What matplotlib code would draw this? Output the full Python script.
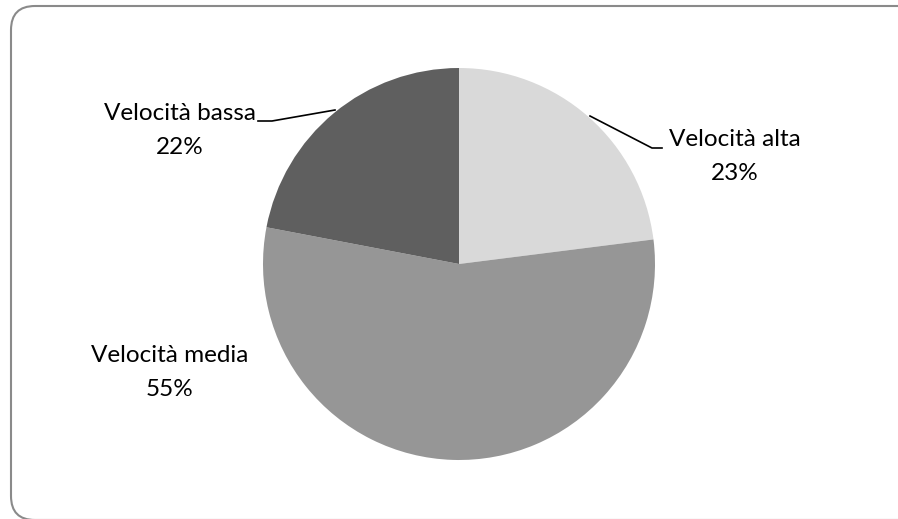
import matplotlib.pyplot as plt
from matplotlib.patches import FancyBboxPatch

# Speed class shares
categories = ['Velocità alta', 'Velocità media', 'Velocità bassa']
shares = [23, 55, 22]
colors = ['#d9d9d9', '#969696', '#5f5f5f']

W, H = 898, 519
fig = plt.figure(figsize=(W / 100, H / 100), dpi=100, facecolor='white')
ax = fig.add_axes([0, 0, 1, 1])

ax.pie(shares, colors=colors, startangle=90, counterclock=False,
       center=(459, H - 264), radius=196,
       wedgeprops=dict(linewidth=0))

ax.set_xlim(0, W)
ax.set_ylim(0, H)
ax.set_aspect('equal')
ax.axis('off')

# rounded chart frame, running off the right and bottom edges
left, top, right, bottom = 11, 6, 940, 520
frame = FancyBboxPatch((left, H - bottom), right - left, bottom - top,
                       boxstyle='round,pad=0,rounding_size=24',
                       fill=False, edgecolor='#8a8a8a', linewidth=1.5,
                       transform=ax.transData, clip_on=False)
ax.add_patch(frame)

font = dict(family='Lato', fontsize=17.5, color='black',
            ha='center', va='center')

# label text positions and leader lines
label_pos = [(735, 140), (170, 355), (180, 113)]
leaders = [[(590, 116), (652, 148), (662, 148)],
           None,
           [(335, 110), (272, 121), (258, 121)]]

for name, val, (x, y), lead in zip(categories, shares, label_pos, leaders):
    ax.text(x, H - y, name, **font)
    ax.text(x, H - y - 34, f'{val}%', **font)
    if lead:
        xs = [p[0] for p in lead]
        ys = [H - p[1] for p in lead]
        ax.plot(xs, ys, color='black', linewidth=1.2)

fig.savefig('out.png', dpi=100)
